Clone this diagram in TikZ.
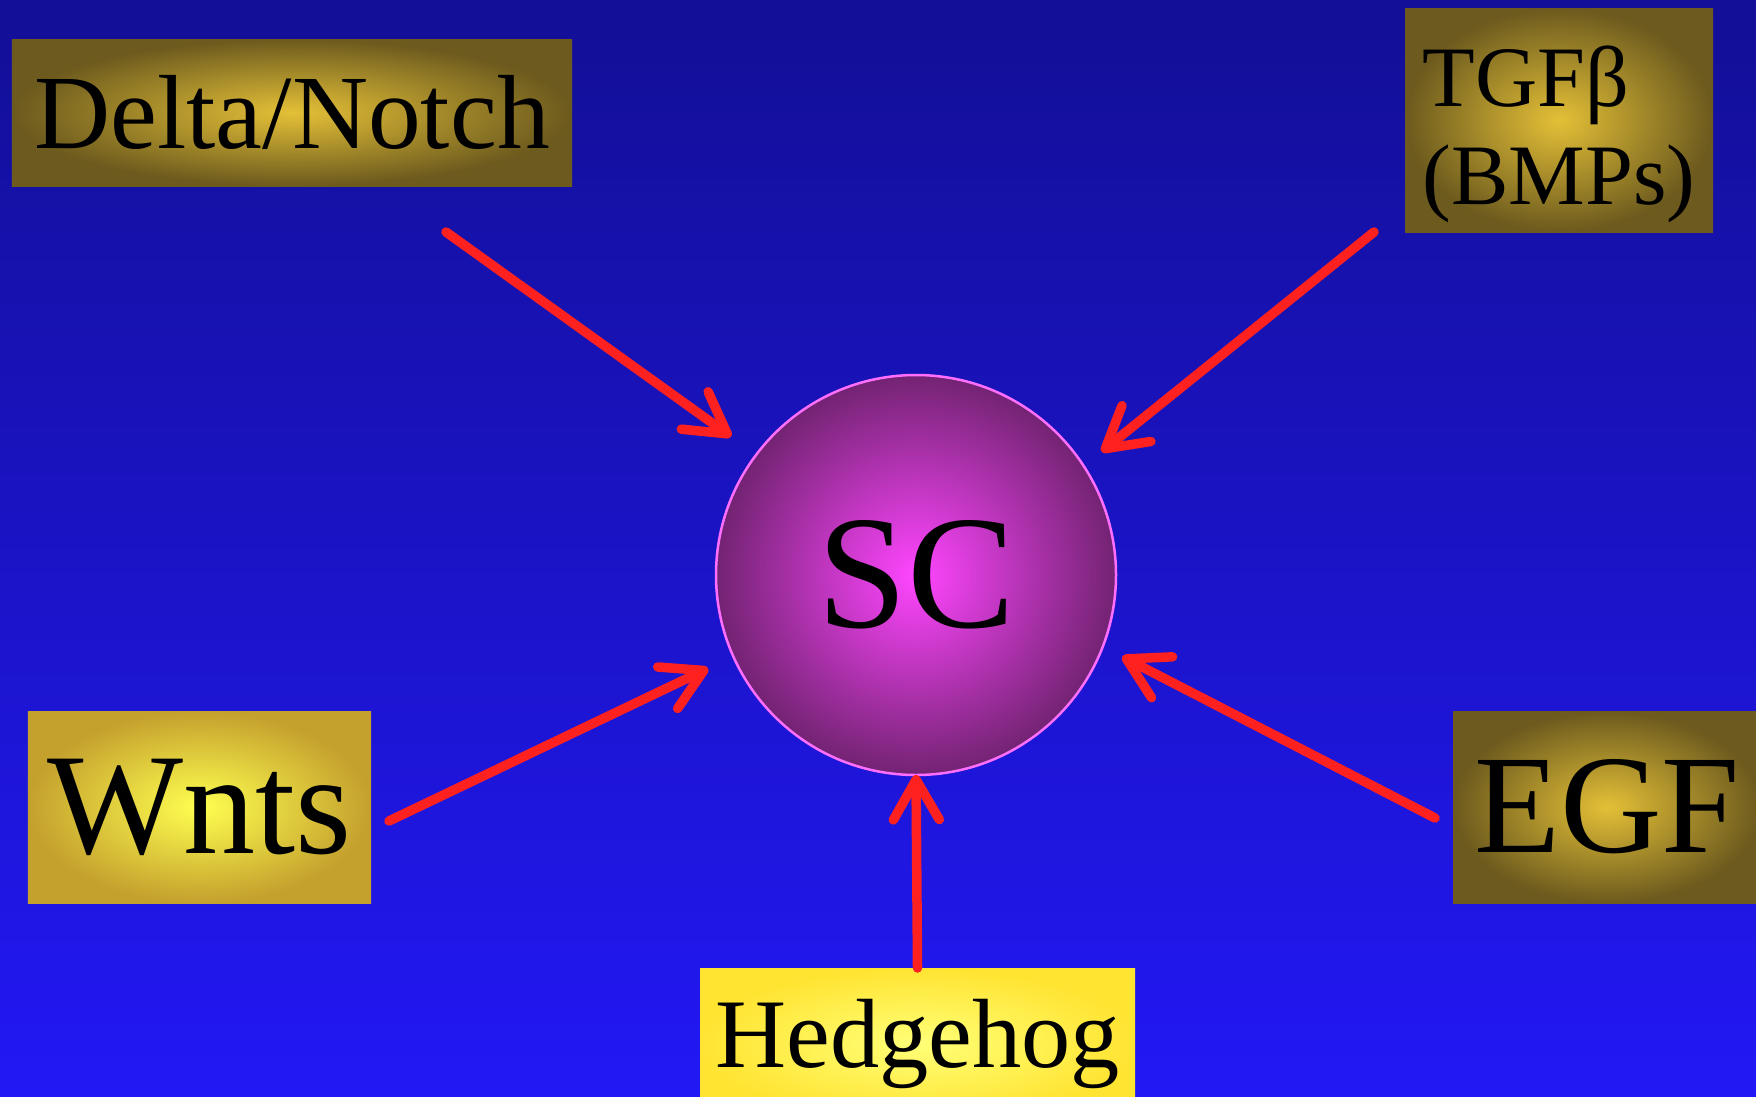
\documentclass[tikz,border=0pt]{standalone}
\usepackage{fontspec}
\setmainfont{Liberation Serif}
\usetikzlibrary{arrows.meta}

\definecolor{bgtop}{RGB}{19,15,150}
\definecolor{bgbot}{RGB}{34,24,245}
\definecolor{goldin}{RGB}{228,192,55}
\definecolor{goldout}{RGB}{108,90,30}
\definecolor{yelin}{RGB}{255,255,80}
\definecolor{yelout}{RGB}{196,160,45}
\definecolor{hhin}{RGB}{255,255,120}
\definecolor{hhout}{RGB}{255,228,50}
\definecolor{cellin}{RGB}{255,70,255}
\definecolor{cellout}{RGB}{115,35,115}
\definecolor{cellrim}{RGB}{255,110,255}
\definecolor{sigred}{RGB}{255,32,32}

\tikzset{
  darkbox/.style={inner color=goldin, outer color=goldout, inner sep=0pt},
  litebox/.style={inner color=yelin, outer color=yelout, inner sep=0pt},
  sig/.style={draw=sigred, line width=0.95mm, line cap=round,
    -{Straight Barb[length=4mm,width=4.6mm,round]}},
}

\begin{document}
\begin{tikzpicture}[x=1mm,y=1mm]
\useasboundingbox (0,0) rectangle (175.6,109.6);
\clip (0,0) rectangle (175.6,109.6);
\shade[top color=bgtop, bottom color=bgbot] (0,0) rectangle (175.6,109.6);

% stem cell
\node[circle, minimum size=40mm, outer sep=0pt, inner sep=0pt,
  inner color=cellin, outer color=cellout, draw=cellrim, line width=0.25mm,
  font=\fontsize{46}{50}\selectfont] (sc) at (91.6,52.1) {SC};

% signals
\node[darkbox, minimum width=56mm, minimum height=14.7mm,
  font=\fontsize{30}{34}\selectfont] (delta) at (29.2,98.35) {Delta/Notch};
\node[darkbox, minimum width=30.8mm, minimum height=22.4mm] (tgf) at (155.9,97.6) {};
\node[align=left, inner sep=0pt, font=\fontsize{24.5}{28}\selectfont]
  (tgf-txt) at ([yshift=-1.45mm]tgf.center) {TGFβ\\(BMPs)};
\node[litebox, minimum width=34.3mm, minimum height=19.2mm,
  font=\fontsize{41}{45}\selectfont] (wnts) at (19.95,28.9) {Wnts};
\node[darkbox, minimum width=30.8mm, minimum height=19.2mm,
  font=\fontsize{40}{44}\selectfont] (egf) at (160.7,28.9) {EGF};
\node[litebox, inner color=hhin, outer color=hhout, minimum width=43.5mm,
  minimum height=15mm, anchor=north, font=\fontsize{28}{32}\selectfont]
  (hh) at (91.75,12.8) {Hedgehog};

\coordinate (delta-out) at (44.6,86.4);
\coordinate (tgf-out) at (137.4,86.4);
\coordinate (wnts-out) at (38.9,27.5);
\coordinate (egf-out) at (143.5,27.8);

\draw[sig, shorten >=3.1mm] (delta-out) -- (sc.143);
\draw[sig, shorten >=2.3mm] (tgf-out) -- (sc.33);
\draw[sig, shorten >=2.8mm] (wnts-out) -- (sc.204);
\draw[sig, shorten >=2.2mm] (egf-out) -- (sc.339);
\draw[sig] (hh.north) -- (sc.south);
\end{tikzpicture}
\end{document}
